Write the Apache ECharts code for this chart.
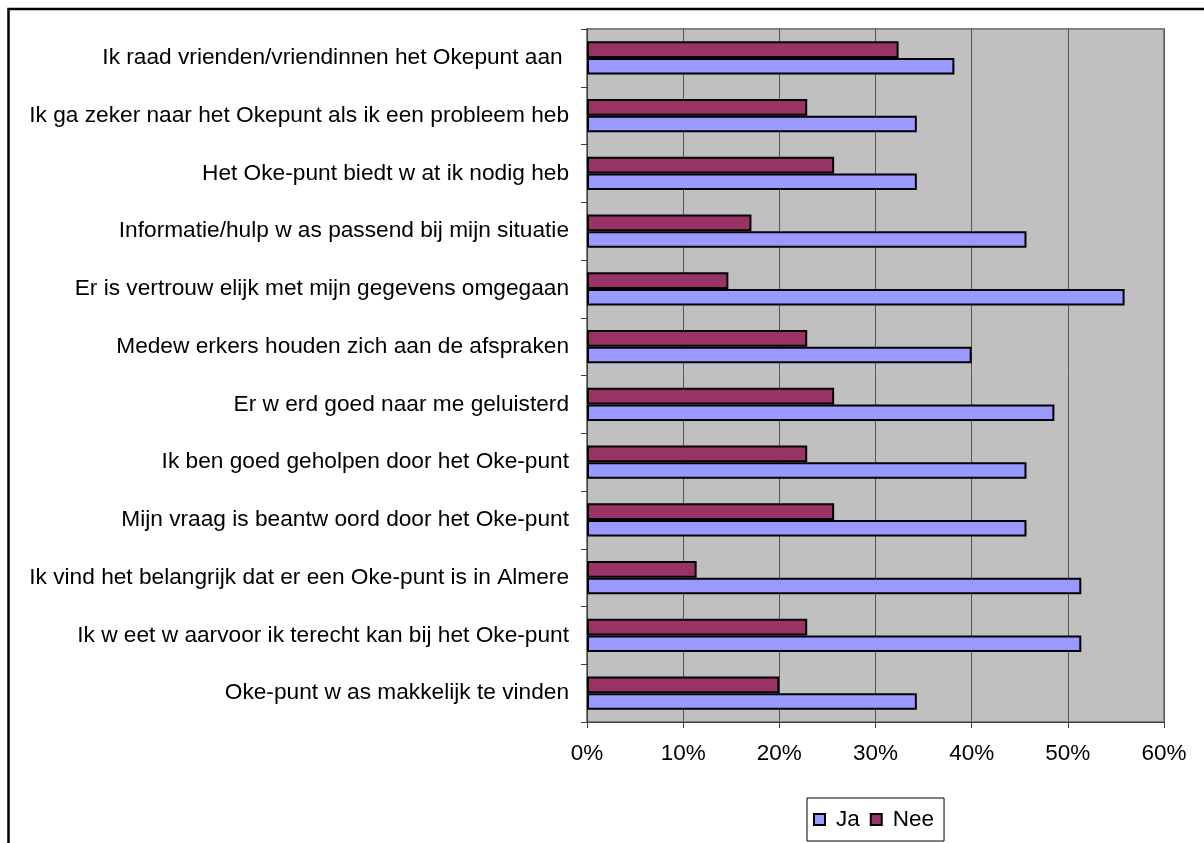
<!DOCTYPE html>
<html>
<head>
<meta charset="utf-8">
<script src="https://cdn.jsdelivr.net/npm/echarts@6/dist/echarts.min.js"></script>
<style>
html,body{margin:0;padding:0;background:#fff;}
#chart{width:1204px;height:843px;}
</style>
</head>
<body>
<div id="chart"></div>
<script>
// Categories listed bottom -> top (ECharts category y axis starts at the bottom)
var categories = [
  "Oke-punt w as makkelijk te vinden",
  "Ik w eet w aarvoor ik terecht kan bij het Oke-punt",
  "Ik vind het belangrijk dat er een Oke-punt is in Almere",
  "Mijn vraag is beantw oord door het Oke-punt",
  "Ik ben goed geholpen door het Oke-punt",
  "Er w erd goed naar me geluisterd",
  "Medew erkers houden zich aan de afspraken",
  "Er is vertrouw elijk met mijn gegevens omgegaan",
  "Informatie/hulp w as passend bij mijn situatie",
  "Het Oke-punt biedt w at ik nodig heb",
  "Ik ga zeker naar het Okepunt als ik een probleem heb",
  "Ik raad vrienden/vriendinnen het Okepunt aan "
];
var jaValues  = [34.3, 51.4, 51.4, 45.7, 45.7, 48.6, 40.0, 55.9, 45.7, 34.3, 34.3, 38.2];
var neeValues = [20.0, 22.9, 11.4, 25.7, 22.9, 25.7, 22.9, 14.7, 17.1, 25.7, 22.9, 32.4];
var xTicks = [0, 10, 20, 30, 40, 50, 60];

var FONT = '"Liberation Sans", Arial, sans-serif';
var chart = echarts.init(document.getElementById('chart'), null, {renderer: 'canvas'});
chart.setOption({
  backgroundColor: '#ffffff',
  animation: false,
  textStyle: {fontFamily: FONT, color: '#000'},
  graphic: [{
    type: 'rect',
    shape: {x: 8.5, y: 9, width: 1400, height: 1000},
    style: {fill: 'none', stroke: '#000', lineWidth: 2.5},
    silent: true
  }],
  grid: {
    left: 587, right: 40, top: 29, bottom: 121,
    show: true, backgroundColor: '#C0C0C0', borderColor: '#808080', borderWidth: 2
  },
  legend: {
    data: ['Ja', 'Nee'],
    left: 807, top: 798,
    orient: 'horizontal',
    itemWidth: 11, itemHeight: 11, itemGap: 10,
    padding: [10, 10, 10, 6],
    borderColor: '#000', borderWidth: 1,
    icon: 'rect',
    textStyle: {fontSize: 22.5, fontFamily: FONT, color: '#000', padding: [0, 0, 0, 6]}
  },
  xAxis: {
    type: 'value',
    min: xTicks[0], max: xTicks[xTicks.length - 1], interval: 10,
    axisLine: {show: true, lineStyle: {color: '#404040', width: 1}},
    axisTick: {show: true, length: 6, lineStyle: {color: '#404040'}},
    axisLabel: {formatter: '{value}%', fontSize: 22.5, fontFamily: FONT, color: '#000', margin: 20},
    splitLine: {show: true, lineStyle: {color: '#555555', width: 1}}
  },
  yAxis: {
    type: 'category',
    data: categories,
    axisLine: {show: true, lineStyle: {color: '#404040', width: 1}},
    axisTick: {show: true, length: 6, lineStyle: {color: '#404040'}},
    axisLabel: {fontSize: 22.7, fontFamily: FONT, color: '#000', margin: 18},
    splitLine: {show: false}
  },
  series: [
    {
      name: 'Nee', type: 'bar', data: neeValues,
      barGap: '0%', barCategoryGap: '42%',
      itemStyle: {color: '#993366', borderColor: '#000', borderWidth: 2}
    },
    {
      name: 'Ja', type: 'bar', data: jaValues,
      barGap: '0%', barCategoryGap: '42%',
      itemStyle: {color: '#9999FF', borderColor: '#000', borderWidth: 2}
    }
  ]
});
</script>
</body>
</html>
